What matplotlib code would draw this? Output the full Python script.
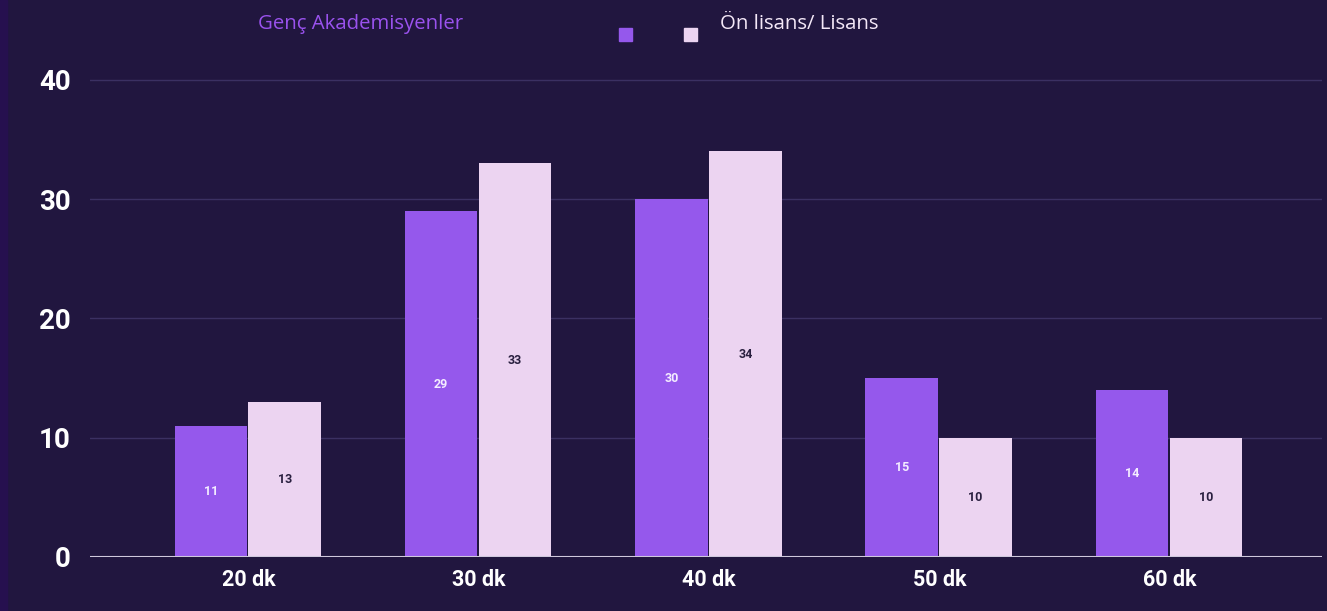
import matplotlib.pyplot as plt
import numpy as np

categories = ['20 dk', '30 dk', '40 dk', '50 dk', '60 dk']
genc = [11, 29, 30, 15, 14]
lisans = [13, 33, 34, 10, 10]
yticks = [0, 10, 20, 30, 40]

bg = '#21163f'
purple = '#9558ec'
pink = '#ecd4f1'

fig = plt.figure(figsize=(13.27, 6.11), dpi=100, facecolor=bg)
ax = fig.add_axes([0.068, 0.0884, 0.928, 0.82])
ax.set_facecolor(bg)

x = np.arange(len(categories))
w = 0.315
b1 = ax.bar(x - w / 2 - 0.006, genc, w, color=purple, zorder=3)
b2 = ax.bar(x + w / 2, lisans, w, color=pink, zorder=3)

for bars, col in ((b1, '#f3ecff'), (b2, '#2a2040')):
    for r in bars:
        h = r.get_height()
        ax.text(r.get_x() + r.get_width() / 2, h / 2, str(int(h)), ha='center', va='center',
                fontsize=9, color=col, family='Roboto', fontweight='bold', zorder=4)

ax.set_xlim(-0.687, 4.66)
ax.set_ylim(0, 42)
ax.set_yticks(yticks)
ax.set_xticks(x)
ax.set_xticklabels(categories)
ax.grid(axis='y', color='#3b3062', lw=1, zorder=0)
ax.axhline(0, color='#cfc8dc', lw=1.5, zorder=5)
for s in ax.spines.values():
    s.set_visible(False)
ax.tick_params(length=0, colors='white')
for lab in ax.get_yticklabels():
    lab.set_fontsize(20)
    lab.set_family('Roboto')
    lab.set_fontweight('bold')
for lab in ax.get_xticklabels():
    lab.set_fontsize(15.5)
    lab.set_family('Roboto')
    lab.set_fontweight('bold')
ax.tick_params(axis='y', pad=14)
ax.tick_params(axis='x', pad=9)

# legend row at top
leg_font = 'Open Sans'
fig.text(258 / 1327, 1 - 24 / 611, 'Genç Akademisyenler', color='#9a52ee', fontsize=14.7,
         family=leg_font, va='center', ha='left')
fig.patches.append(plt.Rectangle((619 / 1327, 1 - 41 / 611), 13 / 1327, 13 / 611,
                                 transform=fig.transFigure, color=purple))
fig.patches.append(plt.Rectangle((684 / 1327, 1 - 41 / 611), 13 / 1327, 13 / 611,
                                 transform=fig.transFigure, color=pink))
fig.text(720 / 1327, 1 - 24 / 611, 'Ön lisans/ Lisans', color='#f4e8f8', fontsize=14.7,
         family=leg_font, va='center', ha='left')

# thin left strip
fig.patches.append(plt.Rectangle((0, 0), 7 / 1327, 1, transform=fig.transFigure, color='#26104f'))

fig.savefig('out.png', dpi=100, facecolor=bg)
